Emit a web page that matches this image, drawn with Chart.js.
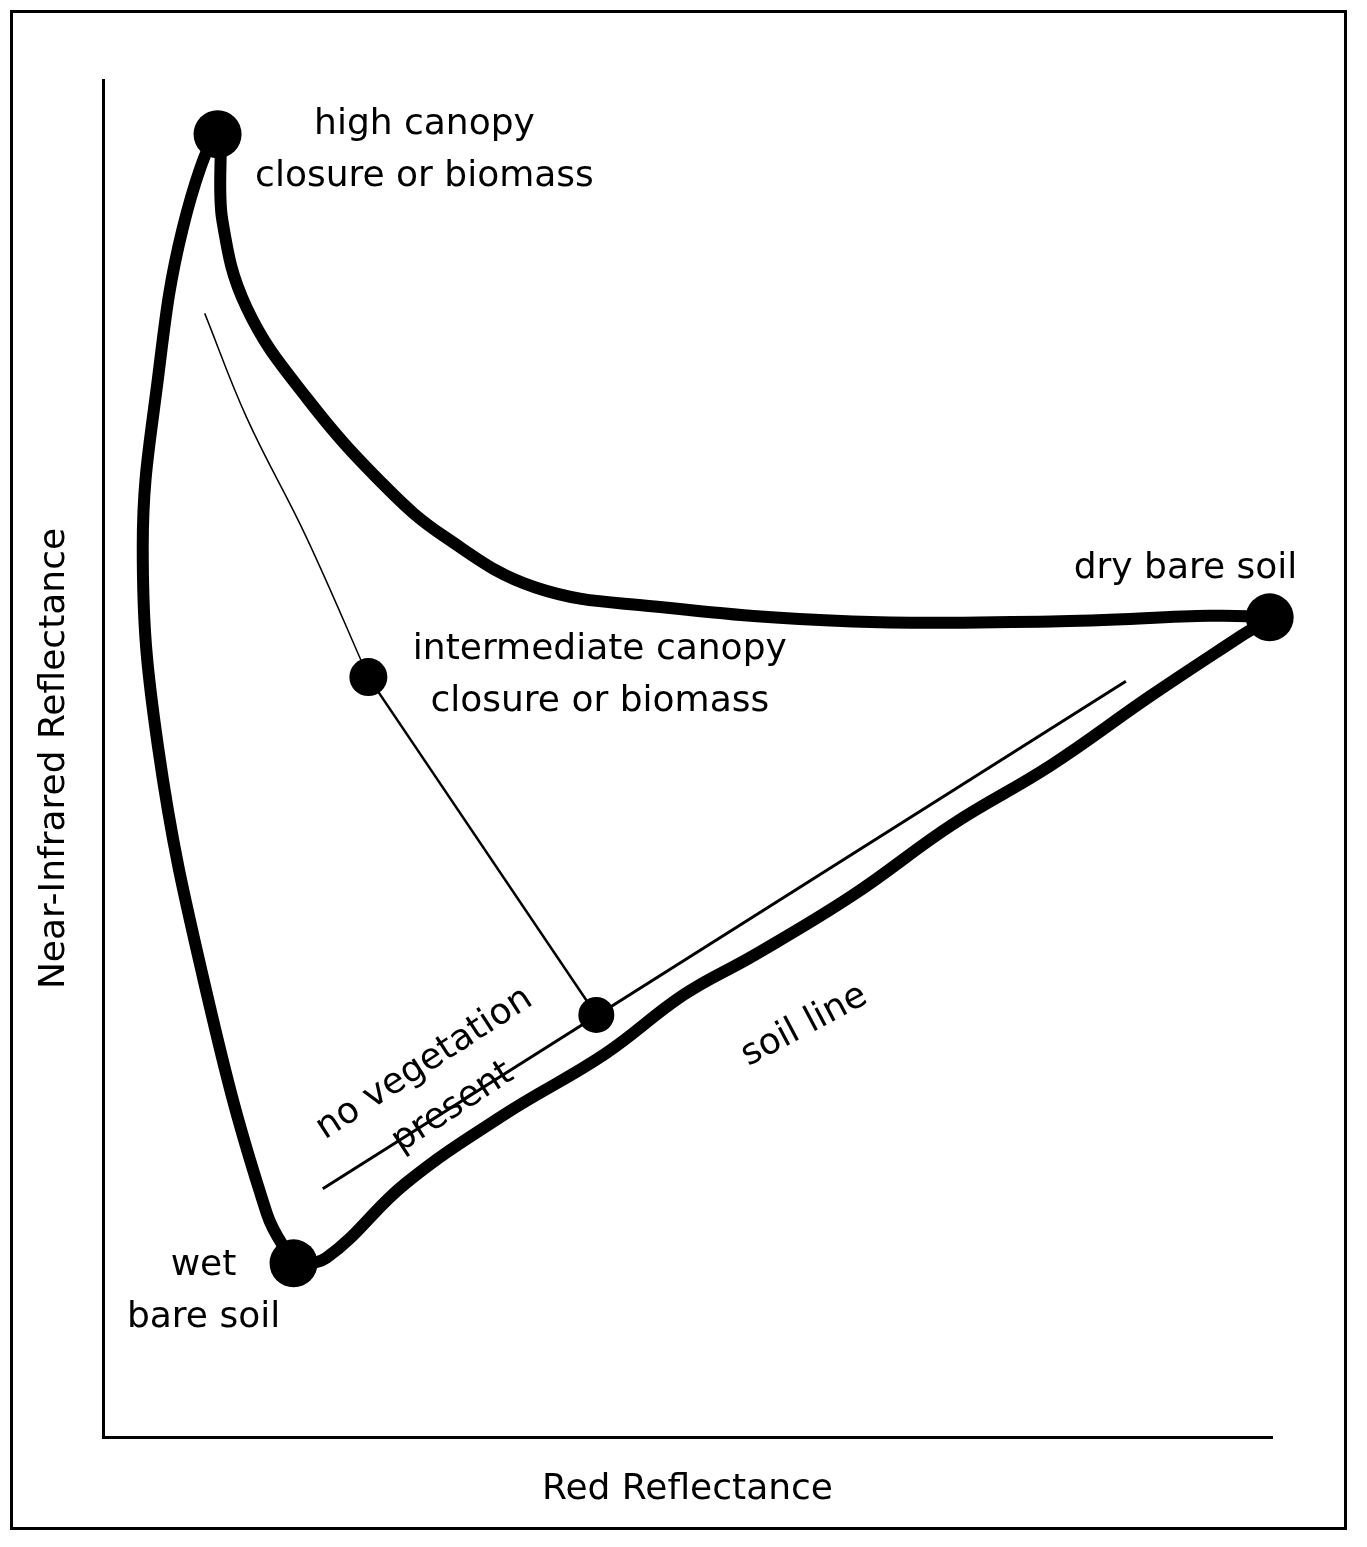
<!DOCTYPE html>
<html><head><meta charset="utf-8">
<script src="https://cdn.jsdelivr.net/npm/chart.js@4"></script>
<style>
html,body{margin:0;padding:0;background:#fff}
#wrap{position:relative;width:1367px;height:1547px}
#frame{position:absolute;left:10px;top:10px;width:1337px;height:1520px;border:3px solid #000;box-sizing:border-box;pointer-events:none}
</style></head>
<body><div id="wrap"><canvas id="c" width="1367" height="1547"></canvas><div id="frame"></div></div>
<script>
// axes run 0..100 in both directions (no tick values on the figure)
const outerX = [16.3,14.0,8.9,4.7,3.4,4.7,6.8,9.8,10.2,12.3,17.4,24.2,29.3,37.0,47.2,64.1,81.1,99.8,97.3,89.6,81.1,72.6,64.1,55.7,49.7,42.9,34.4,25.9,19.1,16.3];
const outerY = [12.8,16.5,32.6,50.9,65.6,78.0,89.0,96.0,89.7,83.2,76.6,70.0,66.3,62.6,61.2,60.1,60.1,60.4,59.0,54.6,49.5,45.1,39.9,35.5,32.6,28.2,23.8,18.7,13.2,12.8];
const soilLineX = [18.8,87.5];
const soilLineY = [18.3,55.7];
const curveX = [8.7,12.3,17.4,22.7];
const curveY = [82.8,75.1,66.3,56.0];
const dropX = [22.7,42.2];
const dropY = [56.0,31.1];
const dotX = [9.8,99.8,16.3,22.7,42.2];
const dotY = [96.0,60.4,12.8,56.0,31.1];
const dotR = [24,24,24,19,18];
const labels = [
  {lines:["high canopy","closure or biomass"], x:27.5, y:96.7, rot:0},
  {lines:["dry bare soil"], x:92.6, y:64.0, rot:0},
  {lines:["intermediate canopy","closure or biomass"], x:42.5, y:58.0, rot:0},
  {lines:["wet","bare soil"], x:8.6, y:12.6, rot:0},
  {lines:["no vegetation","present"], x:27.5, y:27.5, rot:-33},
  {lines:["soil line"], x:60.0, y:30.3, rot:-28}
];

const pts = (xs, ys) => xs.map((x, i) => ({x, y: ys[i]}));
const FONT = '36px "DejaVu Sans"';

const textPlugin = {
  id: 'texts',
  afterDraw(chart) {
    const ctx = chart.ctx, sx = chart.scales.x, sy = chart.scales.y;
    ctx.save();
    ctx.fillStyle = '#000';
    ctx.font = FONT;
    ctx.textAlign = 'center';
    ctx.textBaseline = 'middle';
    labels.forEach(l => {
      ctx.save();
      ctx.translate(sx.getPixelForValue(l.x), sy.getPixelForValue(l.y));
      ctx.rotate(l.rot * Math.PI / 180);
      l.lines.forEach((t, i) => ctx.fillText(t, 0, i * 52));
      ctx.restore();
    });
    ctx.fillText('Red Reflectance', (sx.left + sx.right) / 2, 1490);
    ctx.translate(55, (sy.top + sy.bottom) / 2);
    ctx.rotate(-Math.PI / 2);
    ctx.fillText('Near-Infrared Reflectance', 0, 0);
    ctx.restore();
  }
};

const lineDs = (data, w) => ({data, showLine: true, borderColor: '#000', borderWidth: w, pointRadius: 0, tension: 0.4, clip: false, fill: false});

new Chart(document.getElementById('c'), {
  type: 'scatter',
  data: {datasets: [
    lineDs(pts(outerX, outerY), 12),
    {...lineDs(pts(soilLineX, soilLineY), 3), tension: 0},
    lineDs(pts(curveX, curveY), 1.5),
    {...lineDs(pts(dropX, dropY), 2.5), tension: 0},
    {data: pts(dotX, dotY), pointRadius: dotR, backgroundColor: '#000', borderWidth: 0, clip: false}
  ]},
  options: {
    responsive: false, animation: false,
    layout: {padding: {left: 95, right: 95, top: 80, bottom: 102}},
    plugins: {legend: {display: false}, tooltip: {enabled: false}},
    scales: {
      x: {type: 'linear', min: 0, max: 100, ticks: {display: false}, grid: {display: false}, border: {color: '#000', width: 3}},
      y: {type: 'linear', min: 0, max: 100, ticks: {display: false}, grid: {display: false}, border: {color: '#000', width: 3}}
    }
  },
  plugins: [textPlugin]
});
</script></body></html>
